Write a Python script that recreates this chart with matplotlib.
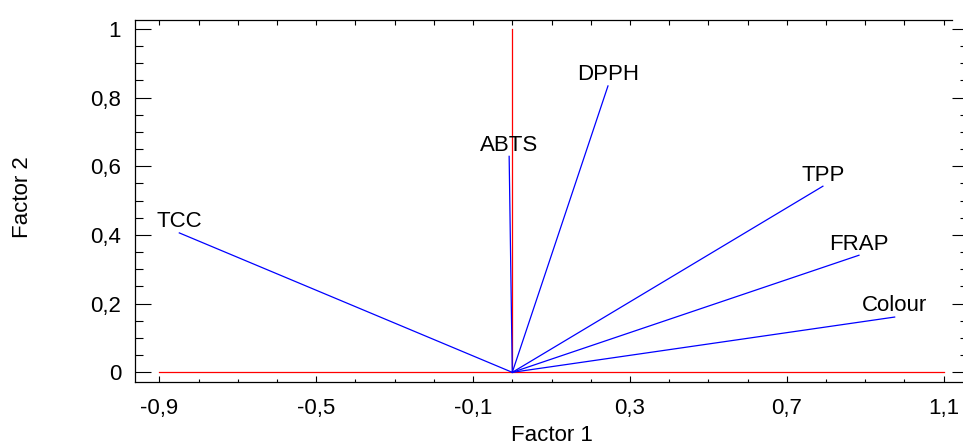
import matplotlib
matplotlib.use("Agg")
import matplotlib.pyplot as plt
from matplotlib.ticker import FixedLocator, MultipleLocator, FuncFormatter

plt.rcParams['font.family'] = ['Liberation Sans', 'DejaVu Sans']

# Data (factor loadings)
variables = ["TCC", "ABTS", "DPPH", "TPP", "FRAP", "Colour"]
factor1 = [-0.849, -0.008, 0.244, 0.792, 0.884, 0.975]
factor2 = [0.406, 0.629, 0.834, 0.542, 0.341, 0.161]

x_ticks = [-0.9, -0.5, -0.1, 0.3, 0.7, 1.1]
y_ticks = [0, 0.2, 0.4, 0.6, 0.8, 1.0]

# reference axis lines
ref_h_x = [-0.9, 1.1]
ref_h_y = [0, 0]
ref_v_x = [0, 0]
ref_v_y = [0, 1]

W, H = 963, 447
fig = plt.figure(figsize=(W / 100, H / 100), dpi=100)
left, right, bottom, top = 135, 968, 382.3, 20
ax = fig.add_axes([left / W, (H - bottom) / H, (right - left) / W, (bottom - top) / H])

ax.set_xlim(-0.962, 1.162)
ax.set_ylim(-0.029, 1.026)

ax.plot(ref_h_x, ref_h_y, color='#ff0000', lw=0.9, zorder=2)
ax.plot(ref_v_x, ref_v_y, color='#ff0000', lw=0.9, zorder=2)

for name, fx, fy in zip(variables, factor1, factor2):
    ax.plot([0, fx], [0, fy], color='#0000ff', lw=0.9, zorder=3)
    ax.annotate(name, (fx, fy), xytext=(0, 4), textcoords='offset points',
                ha='center', va='baseline', fontsize=16)

fmt = FuncFormatter(lambda v, p: ('%g' % round(v, 2)).replace('.', ','))
ax.xaxis.set_major_locator(FixedLocator(x_ticks))
ax.xaxis.set_minor_locator(MultipleLocator(0.1))
ax.xaxis.set_major_formatter(fmt)
ax.yaxis.set_major_locator(FixedLocator(y_ticks))
ax.yaxis.set_minor_locator(MultipleLocator(0.05))
ax.yaxis.set_major_formatter(fmt)

ax.tick_params(axis='x', which='major', direction='in', length=4.3, width=0.8,
               top=False, bottom=True, labelsize=16, pad=11)
ax.tick_params(axis='x', which='minor', direction='in', length=2.2, width=0.8,
               top=False, bottom=True)
ax.tick_params(axis='y', which='major', direction='in', length=11.5, width=0.8,
               left=True, right=True, labelsize=16, pad=10)
ax.tick_params(axis='y', which='minor', direction='in', length=5.8, width=0.8,
               left=True, right=True)

for s in ax.spines.values():
    s.set_linewidth(0.9)
ax.spines['right'].set_visible(False)
ax.spines['top'].set_bounds(-0.962, 1.12)

# top ticks every 0.1
ax2 = ax.twiny()
ax2.set_xlim(ax.get_xlim())
ax2.xaxis.set_major_locator(MultipleLocator(0.1))
ax2.tick_params(axis='x', which='major', direction='in', length=3.6, width=0.8,
                top=True, bottom=False, labeltop=False, labelbottom=False)
for s in ax2.spines.values():
    s.set_visible(False)

ax.set_xlabel("Factor 1", fontsize=16)
ax.set_ylabel("Factor 2", fontsize=16)
ax.xaxis.set_label_coords(0.5, -0.118)
ax.yaxis.set_label_coords(-0.122, 0.51)

fig.savefig("out.png", dpi=100)
